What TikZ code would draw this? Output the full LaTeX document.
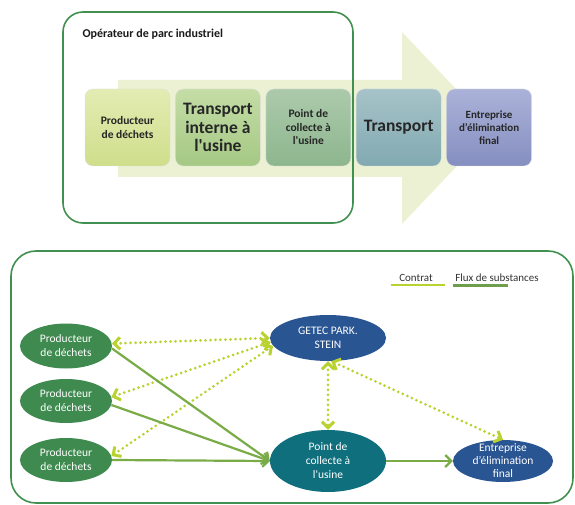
\documentclass[tikz,border=0pt]{standalone}
\usepackage{fontspec}
\setmainfont{Carlito}[Ligatures=TeXOff]
\usetikzlibrary{positioning, shapes.geometric, arrows.meta}

\definecolor{framegreen}{HTML}{41904F}
\definecolor{arrowfill}{HTML}{EBF1D2}
\definecolor{prodtop}{HTML}{E3ECB3}
\definecolor{prodbot}{HTML}{CFDE8B}
\definecolor{tinttop}{HTML}{C4DDA6}
\definecolor{tintbot}{HTML}{A5C884}
\definecolor{colltop}{HTML}{ACCAAB}
\definecolor{collbot}{HTML}{8DB68E}
\definecolor{transtop}{HTML}{A6C3C9}
\definecolor{transbot}{HTML}{82A9B1}
\definecolor{elimtop}{HTML}{ABB2D9}
\definecolor{elimbot}{HTML}{858FC0}
\definecolor{prodgreen}{HTML}{3E8A4F}
\definecolor{getecblue}{HTML}{2A5593}
\definecolor{pointteal}{HTML}{0F6F7D}
\definecolor{contratgreen}{HTML}{B9D22F}
\definecolor{fluxgreen}{HTML}{79AB46}
\definecolor{legendgreen}{HTML}{6E9E4C}

\begin{document}
\begin{tikzpicture}[
          x=1pt, y=-1pt,
          frame/.style={draw=framegreen, line width=1.6pt},
          stage/.style={rounded corners=8pt, draw=black!12, minimum width=85pt,
            minimum height=77pt, inner sep=2pt, align=center, text=black!85,
            font=\bfseries\fontsize{11.5}{13.5}\selectfont},
          bigstage/.style={stage, font=\bfseries\fontsize{17.5}{18.5}\selectfont},
          actor/.style={ellipse, inner sep=0pt, align=center, text=white,
            font=\fontsize{11.5}{14}\selectfont},
          legend/.style={text=black!80, font=\fontsize{11}{13}\selectfont},
          contrat/.style={<->, draw=contratgreen, line width=3pt,
            dash pattern=on 0pt off 5pt, line cap=round},
          flux/.style={->, draw=fluxgreen, line width=2.2pt},
          >={Straight Barb[length=6pt, width=12pt]}
        ]
          \useasboundingbox (0,0) rectangle (575,505);

          \fill[arrowfill] (118,80) -- (402,80) -- (402,32) -- (493,128)
            -- (402,224) -- (402,177) -- (118,177) -- cycle;

          \node[stage, top color=prodtop, bottom color=prodbot]
            (prod) at (127.5,127.5) {Producteur\\de déchets};
          \node[bigstage, right=5pt of prod, top color=tinttop, bottom color=tintbot]
            (tint) {Transport\\interne à\\l\textquotesingle usine};
          \node[stage, right=5pt of tint, top color=colltop, bottom color=collbot]
            (coll) {Point de\\collecte à\\l\textquotesingle usine};
          \node[bigstage, right=5pt of coll, top color=transtop, bottom color=transbot]
            (trans) {Transport};
          \node[stage, right=5pt of trans, top color=elimtop, bottom color=elimbot,
            font=\bfseries\fontsize{11}{13.3}\selectfont]
            (elim) {Entreprise\\d’élimination\\final};

          \draw[frame, rounded corners=20pt] (63,12) rectangle (353,223);
          \node[anchor=west, text=black!90, font=\bfseries\fontsize{12}{14}\selectfont]
            (oper) at (79,34) {Opérateur de parc industriel};

          \draw[frame, rounded corners=25pt] (11,251) rectangle (573,503);

          \node[legend] (lcon) at (416,278) {Contrat};
          \node[legend] (lflux) at (497,278) {Flux de substances};
          \draw[contratgreen, line width=2.5pt] ([xshift=-5pt]lcon.south west) -- ([xshift=9pt]lcon.south east);
          \draw[legendgreen, line width=2.5pt] ([xshift=1pt]lflux.south west) -- ++(55,0);

          \node[actor, fill=prodgreen, minimum width=92pt, minimum height=45pt] (p1) at (66,346) {Producteur\\de déchets};
          \node[actor, fill=prodgreen, minimum width=92pt, minimum height=44pt] (p2) at (66,401) {Producteur\\de déchets};
          \node[actor, fill=prodgreen, minimum width=92pt, minimum height=44pt] (p3) at (66,460) {Producteur\\de déchets};
          \node[actor, fill=getecblue, minimum width=116pt, minimum height=46pt] (getec) at (328,338) {GETEC PARK.\\STEIN};
          \node[actor, fill=pointteal, minimum width=116pt, minimum height=62pt] (point) at (328,461) {Point de\\collecte à\\l\textquotesingle usine};
          \node[actor, fill=getecblue, minimum width=100pt, minimum height=42pt, inner ysep=-8pt,
            font=\fontsize{11.5}{13}\selectfont] (ent) at (503,461) {Entreprise\\d’élimination\\final};

          \draw[contrat] (p1.3) -- (getec.west);
          \draw[contrat] (p2.5) -- (getec.184);
          \draw[contrat] (p3.5) -- (getec.188);
          \draw[contrat] (getec.south) -- (point.north);
          \draw[contrat] (getec.-82) -- (ent.north);

          \draw[flux] (p1.-3) -- (point.west);
          \draw[flux] (p2.-5) -- (point.west);
          \draw[flux] (p3.east) -- (point.west);
          \draw[flux] (point.east) -- (ent.west);
        \end{tikzpicture}
\end{document}
